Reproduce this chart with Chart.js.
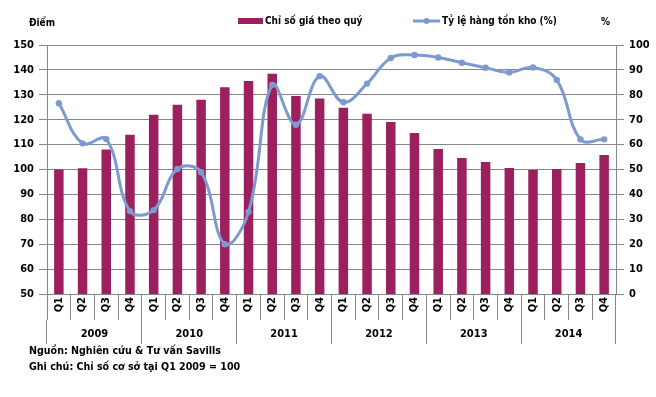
<!DOCTYPE html>
<html>
<head>
<meta charset="utf-8">
<script src="https://cdn.jsdelivr.net/npm/chart.js@4.4.1/dist/chart.umd.min.js"></script>
<style>
  html, body { margin: 0; padding: 0; background: #fff; }
  canvas { display: block; }
</style>
</head>
<body>
<canvas id="stockChart" width="656" height="397"></canvas>
<script>
// quarters 2009 - 2014
const years = ['2009', '2010', '2011', '2012', '2013', '2014'];
const quarters = ['Q1', 'Q2', 'Q3', 'Q4'];
const labels = [];
years.forEach(() => quarters.forEach(q => labels.push(q)));

// Chỉ số giá theo quý (left axis, Q1 2009 = 100)
const priceIndex = [
  100, 100.5, 108, 114,
  122, 126, 128, 133,
  135.5, 138.5, 129.5, 128.5,
  124.8, 122.4, 119.1, 114.7,
  108.2, 104.6, 103, 100.6,
  99.8, 100.2, 102.6, 105.8
];

// Tỷ lệ hàng tồn kho (%) (right axis)
const inventoryRate = [
  76.6, 60.5, 62.2, 33.3,
  33.7, 50.2, 48.9, 20,
  33, 84, 68, 87.5,
  77, 84.5, 94.8, 96,
  95, 92.9, 90.9, 89,
  91, 86, 62.1, 62.1
];

const barColor = '#9c1f5e';
const lineColor = '#7d9ad0';
const gridColor = '#878787';
const fontFamily = '"DejaVu Sans Condensed", "DejaVu Sans", sans-serif';

// legend, axis unit titles and footnotes
const extras = {
  id: 'extras',
  afterDraw(chart) {
    const c = chart.ctx;
    c.save();
    c.fillStyle = '#000';
    c.textBaseline = 'middle';
    c.font = 'bold 10px ' + fontFamily;
    c.textAlign = 'left';
    c.fillText('Điểm', 29, 23);
    c.fillText('%', 601, 22);

    // bar item
    c.fillStyle = barColor;
    c.fillRect(238, 18, 25, 6);
    c.fillStyle = '#000';
    c.fillText('Chỉ số giá theo quý', 265, 21);

    // line item
    c.strokeStyle = lineColor;
    c.lineWidth = 3;
    c.beginPath();
    c.moveTo(413, 21);
    c.lineTo(440, 21);
    c.stroke();
    c.fillStyle = lineColor;
    c.beginPath();
    c.arc(426.5, 21, 3, 0, Math.PI * 2);
    c.fill();
    c.fillStyle = '#000';
    c.fillText('Tỷ lệ hàng tồn kho (%)', 442, 21);

    c.font = 'bold 10.6px ' + fontFamily;
    c.fillText('Nguồn: Nghiên cứu & Tư vấn Savills', 29, 351);
    c.fillText('Ghi chú: Chỉ số cơ sở tại Q1 2009 = 100', 29, 367);
    c.restore();
  }
};

const tickFont = { family: fontFamily, size: 11, weight: 'bold' };

const config = {
  data: {
    labels: labels,
    datasets: [{
      type: 'line',
      label: 'Tỷ lệ hàng tồn kho (%)',
      data: inventoryRate,
      yAxisID: 'y1',
      borderColor: lineColor,
      backgroundColor: lineColor,
      borderWidth: 3,
      pointRadius: 3.2,
      pointBorderWidth: 0,
      pointHoverRadius: 3.2,
      tension: 0.4,
      fill: false,
      order: 0
    }, {
      type: 'bar',
      label: 'Chỉ số giá theo quý',
      data: priceIndex,
      yAxisID: 'y',
      backgroundColor: barColor,
      barPercentage: 0.4,
      categoryPercentage: 1,
      order: 1
    }]
  },
  options: {
    responsive: false,
    animation: false,
    layout: { padding: { top: 45, left: 0, right: 0, bottom: 53 } },
    plugins: { legend: { display: false }, tooltip: { enabled: false } },
    scales: {
      x: {
        type: 'category',
        position: 'bottom',
        weight: 0,
        offset: true,
        grid: { drawOnChartArea: false, offset: true, tickLength: 26, color: gridColor },
        border: { color: gridColor },
        ticks: { minRotation: 90, maxRotation: 90, padding: -23, color: '#000', font: tickFont },
        afterFit: s => { s.height = 26; }
      },
      x2: {
        type: 'category',
        labels: years,
        position: 'bottom',
        weight: 1,
        offset: true,
        grid: { drawOnChartArea: false, offset: true, tickLength: 24, color: gridColor },
        border: { display: false },
        ticks: { padding: -16, color: '#000', font: tickFont },
        afterFit: s => { s.height = 24; }
      },
      y: {
        position: 'left',
        min: 50,
        max: 150,
        ticks: { stepSize: 10, padding: 5, color: '#000', font: tickFont },
        grid: { color: gridColor, tickLength: 8 },
        border: { color: gridColor },
        afterFit: s => { s.width = 47; }
      },
      y1: {
        position: 'right',
        min: 0,
        max: 100,
        ticks: { stepSize: 10, padding: 5, color: '#000', font: tickFont },
        grid: { drawOnChartArea: false, color: gridColor, tickLength: 8 },
        border: { color: gridColor },
        afterFit: s => { s.width = 40; }
      }
    }
  },
  plugins: [extras]
};

const stockChart = new Chart(document.getElementById('stockChart').getContext('2d'), config);
</script>
</body>
</html>
